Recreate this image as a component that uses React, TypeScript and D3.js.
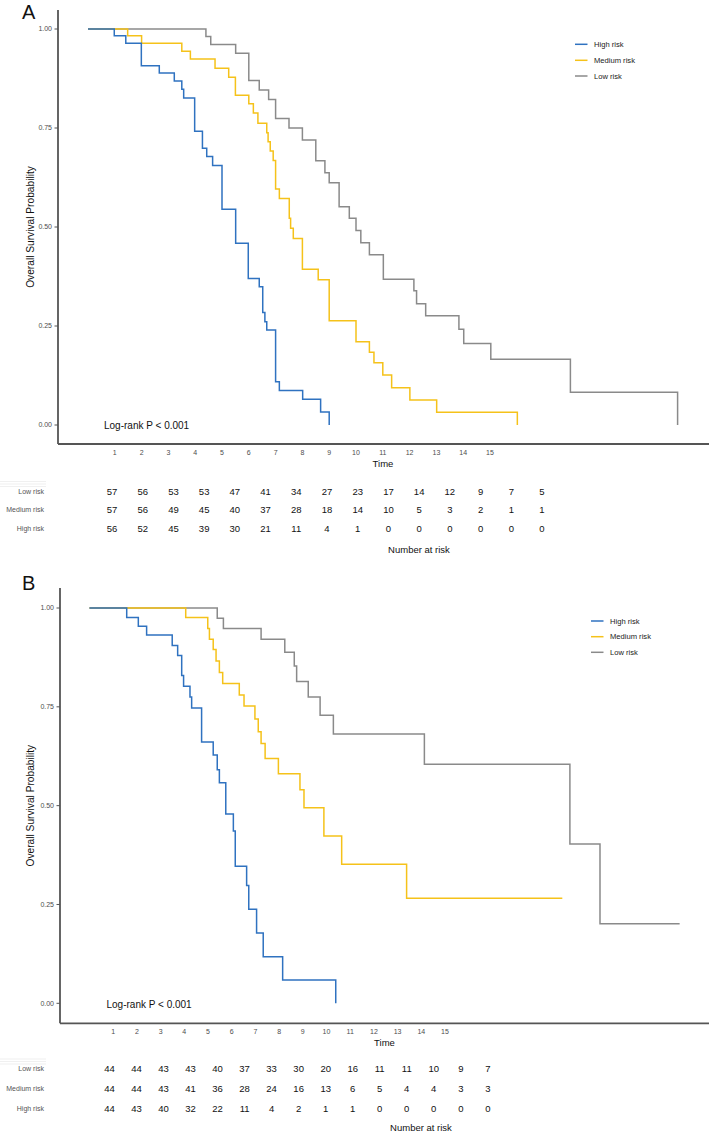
import { useLayoutEffect } from 'react';
import * as d3 from 'd3';

// ---- Panel A: survival steps (time, survival) ----
const highTimesA = [0.98, 1.41, 1.99, 2.66, 3.22, 3.5, 3.57, 3.98, 4.27, 4.43, 4.65, 5.0, 5.51, 5.98, 6.39, 6.52, 6.6, 6.67, 7.0, 7.14, 8.01, 8.68, 9.0];
const highSurvA = [0.983, 0.964, 0.907, 0.889, 0.869, 0.848, 0.826, 0.742, 0.699, 0.678, 0.655, 0.545, 0.459, 0.37, 0.349, 0.284, 0.261, 0.24, 0.109, 0.087, 0.065, 0.033, 0];
const medTimesA = [1.48, 2.0, 3.5, 3.82, 4.74, 5.25, 5.5, 6.0, 6.17, 6.34, 6.67, 6.72, 6.8, 6.91, 7.0, 7.14, 7.51, 7.56, 7.66, 8.0, 8.59, 9.0, 10.0, 10.5, 10.67, 11.0, 11.33, 12.01, 13.01, 16.02];
const medSurvA = [0.983, 0.964, 0.944, 0.924, 0.901, 0.878, 0.833, 0.811, 0.788, 0.762, 0.738, 0.715, 0.692, 0.668, 0.596, 0.572, 0.522, 0.497, 0.471, 0.393, 0.367, 0.263, 0.21, 0.184, 0.157, 0.126, 0.094, 0.063, 0.032, 0];
const lowTimesA = [4.4, 4.58, 5.51, 6.0, 6.39, 6.74, 7.0, 7.5, 8.0, 8.5, 8.84, 9.0, 9.37, 9.75, 10.0, 10.18, 10.5, 11.02, 12.16, 12.26, 12.6, 13.84, 14.02, 15.03, 18.0, 22.0];
const lowSurvA = [0.981, 0.961, 0.939, 0.87, 0.846, 0.822, 0.774, 0.75, 0.72, 0.667, 0.637, 0.612, 0.551, 0.522, 0.491, 0.46, 0.43, 0.368, 0.339, 0.306, 0.276, 0.242, 0.206, 0.166, 0.083, 0];

// ---- Panel B ----
const highTimesB = [1.57, 2.06, 2.41, 3.49, 3.72, 3.89, 3.97, 4.24, 4.31, 4.73, 5.22, 5.39, 5.48, 5.75, 6.07, 6.15, 6.63, 6.72, 7.05, 7.33, 8.15, 10.39];
const highSurvB = [0.976, 0.954, 0.932, 0.905, 0.88, 0.829, 0.802, 0.775, 0.747, 0.661, 0.628, 0.591, 0.558, 0.479, 0.436, 0.347, 0.298, 0.238, 0.178, 0.118, 0.059, 0];
const medTimesB = [4.06, 4.99, 5.06, 5.22, 5.34, 5.48, 5.62, 6.32, 6.52, 6.98, 7.12, 7.24, 7.41, 7.97, 8.88, 9.05, 9.89, 10.64, 13.38, 19.95];
const medSurvB = [0.976, 0.948, 0.921, 0.895, 0.866, 0.837, 0.809, 0.78, 0.752, 0.719, 0.687, 0.657, 0.619, 0.581, 0.54, 0.495, 0.423, 0.352, 0.266, 0.266];
const lowTimesB = [5.39, 5.65, 7.24, 8.24, 8.64, 8.74, 9.23, 9.73, 10.29, 14.13, 20.27, 21.54, 24.9];
const lowSurvB = [0.974, 0.948, 0.921, 0.888, 0.853, 0.814, 0.775, 0.729, 0.681, 0.605, 0.403, 0.201, 0.201];

// ---- Number at risk ----
const riskTimes = [1, 2, 3, 4, 5, 6, 7, 8, 9, 10, 11, 12, 13, 14, 15];
const lowRiskA = [57, 56, 53, 53, 47, 41, 34, 27, 23, 17, 14, 12, 9, 7, 5];
const medRiskA = [57, 56, 49, 45, 40, 37, 28, 18, 14, 10, 5, 3, 2, 1, 1];
const highRiskA = [56, 52, 45, 39, 30, 21, 11, 4, 1, 0, 0, 0, 0, 0, 0];
const lowRiskB = [44, 44, 43, 43, 40, 37, 33, 30, 20, 16, 11, 11, 10, 9, 7];
const medRiskB = [44, 44, 43, 41, 36, 28, 24, 16, 13, 6, 5, 4, 4, 3, 3];
const highRiskB = [44, 43, 40, 32, 22, 11, 4, 2, 1, 1, 0, 0, 0, 0, 0];

const yTicks = [0, 0.25, 0.5, 0.75, 1];
const xTicks = [1, 2, 3, 4, 5, 6, 7, 8, 9, 10, 11, 12, 13, 14, 15];
const groups = ['High risk', 'Medium risk', 'Low risk'];
const colors = ['#2f72c0', '#f5c21a', '#8a8a8a'];
const tableRows = ['Low risk', 'Medium risk', 'High risk'];

const FONT = 'Liberation Sans, Arial, sans-serif';

interface Layout {
  tag: string;
  tagBase: number;
  axisX: number;
  axisTop: number;
  y1: number;
  y0: number;
  xAxisY: number;
  x0: number;
  dx: number;
  tickY: number;
  timeY: number;
  timeX: number;
  tableX: [number, number];
  rowY: number[];
  narY: number;
  narX: number;
  legX: number;
  legY: number[];
  lrX: number;
  lrY: number;
}

interface Series { times: number[]; surv: number[] }

function Panel({ L, series, risk }: { L: Layout; series: Series[]; risk: number[][] }) {
  const x = d3.scaleLinear().domain([0, 1]).range([L.x0, L.x0 + L.dx]);
  const y = d3.scaleLinear().domain([0, 1]).range([L.y0, L.y1]);
  const tx = d3.scaleLinear().domain([1, 15]).range(L.tableX);
  const line = d3.line<[number, number]>()
    .x(d => x(d[0]))
    .y(d => y(d[1]))
    .curve(d3.curveStepAfter);

  return (
    <g>
      <text x={22} y={L.tagBase} fontSize={20} fontFamily={FONT} fill="#111">{L.tag}</text>

      {/* curves */}
      {[2, 1, 0].map(i => {
        const pts: [number, number][] = [[0, 1], ...series[i].times.map((t, k) => [t, series[i].surv[k]] as [number, number])];
        return <path key={i} d={line(pts) || ''} fill="none" stroke={colors[i]} strokeWidth={1.5} />;
      })}

      {/* axes */}
      <line x1={L.axisX} x2={L.axisX} y1={L.axisTop} y2={L.xAxisY} stroke="#555" strokeWidth={1.8} />
      <line x1={L.axisX} x2={709} y1={L.xAxisY} y2={L.xAxisY} stroke="#555" strokeWidth={1.8} />
      {yTicks.map(v => (
        <g key={v}>
          <line x1={L.axisX - 3.5} x2={L.axisX} y1={y(v)} y2={y(v)} stroke="#555" strokeWidth={1} />
          <text x={L.axisX - 6} y={y(v)} dy="0.35em" textAnchor="end" fontSize={7} fontFamily={FONT} fill="#4d4d4d">{v.toFixed(2)}</text>
        </g>
      ))}
      {xTicks.map(v => (
        <text key={v} x={x(v)} y={L.tickY} dy="0.35em" textAnchor="middle" fontSize={7} fontFamily={FONT} fill="#4d4d4d">{v}</text>
      ))}
      <text x={L.timeX} y={L.timeY} dy="0.35em" textAnchor="middle" fontSize={9.5} fontFamily={FONT} fill="#111">Time</text>
      <text transform={`translate(30,${(L.y0 + L.y1) / 2}) rotate(-90)`} dy="0.35em" textAnchor="middle" fontSize={10.2} fontFamily={FONT} fill="#111">Overall Survival Probability</text>

      <text x={L.lrX} y={L.lrY} dy="0.35em" fontSize={10} fontFamily={FONT} fill="#111">Log-rank P &lt; 0.001</text>

      {/* legend */}
      {groups.map((g, i) => (
        <g key={g}>
          <line x1={L.legX} x2={L.legX + 12.5} y1={L.legY[i]} y2={L.legY[i]} stroke={colors[i]} strokeWidth={1.5} />
          <text x={L.legX + 19} y={L.legY[i]} dy="0.35em" fontSize={7.6} fontFamily={FONT} fill="#222">{g}</text>
        </g>
      ))}

      {/* risk table */}
      <g opacity={0.12} stroke="#888">
        <line x1={0} x2={46} y1={L.rowY[0] - 10} y2={L.rowY[0] - 10} />
        <line x1={0} x2={46} y1={L.rowY[0] - 7.5} y2={L.rowY[0] - 7.5} />
        <line x1={0} x2={46} y1={L.rowY[0] - 5} y2={L.rowY[0] - 5} />
      </g>
      {tableRows.map((r, i) => (
        <g key={r}>
          <text x={44} y={L.rowY[i]} dy="0.35em" textAnchor="end" fontSize={7} fontFamily={FONT} fill="#555">{r}</text>
          {riskTimes.map((t, k) => (
            <text key={t} x={tx(t)} y={L.rowY[i]} dy="0.35em" textAnchor="middle" fontSize={9.5} fontFamily={FONT} fill="#111">{risk[i][k]}</text>
          ))}
        </g>
      ))}
      <text x={L.narX} y={L.narY} dy="0.35em" textAnchor="middle" fontSize={9.5} fontFamily={FONT} fill="#111">Number at risk</text>
    </g>
  );
}

const layoutA: Layout = {
  tag: 'A', tagBase: 18.5, axisX: 58, axisTop: 10, y1: 29, y0: 425, xAxisY: 444,
  x0: 88, dx: 26.8, tickY: 453, timeY: 463.5, timeX: 383,
  tableX: [112, 542], rowY: [491.5, 510, 529], narY: 549.5, narX: 419,
  legX: 575, legY: [44.3, 60.3, 76], lrX: 104, lrY: 425.7,
};

const layoutB: Layout = {
  tag: 'B', tagBase: 589.5, axisX: 60, axisTop: 588, y1: 608, y0: 1003.3, xAxisY: 1023.3,
  x0: 89.5, dx: 23.7, tickY: 1032, timeY: 1043, timeX: 384.5,
  tableX: [109.5, 487.8], rowY: [1069, 1089, 1108.3], narY: 1128, narX: 421,
  legX: 591, legY: [621, 636.7, 652.3], lrX: 106.5, lrY: 1004.3,
};

export default function App() {
  useLayoutEffect(() => {
    document.body.style.margin = '0';
  }, []);

  const seriesA: Series[] = [
    { times: highTimesA, surv: highSurvA },
    { times: medTimesA, surv: medSurvA },
    { times: lowTimesA, surv: lowSurvA },
  ];
  const seriesB: Series[] = [
    { times: highTimesB, surv: highSurvB },
    { times: medTimesB, surv: medSurvB },
    { times: lowTimesB, surv: lowSurvB },
  ];

  return (
    <svg width={709} height={1132} style={{ display: 'block', background: '#fff' }}>
      <Panel L={layoutA} series={seriesA} risk={[lowRiskA, medRiskA, highRiskA]} />
      <Panel L={layoutB} series={seriesB} risk={[lowRiskB, medRiskB, highRiskB]} />
    </svg>
  );
}
